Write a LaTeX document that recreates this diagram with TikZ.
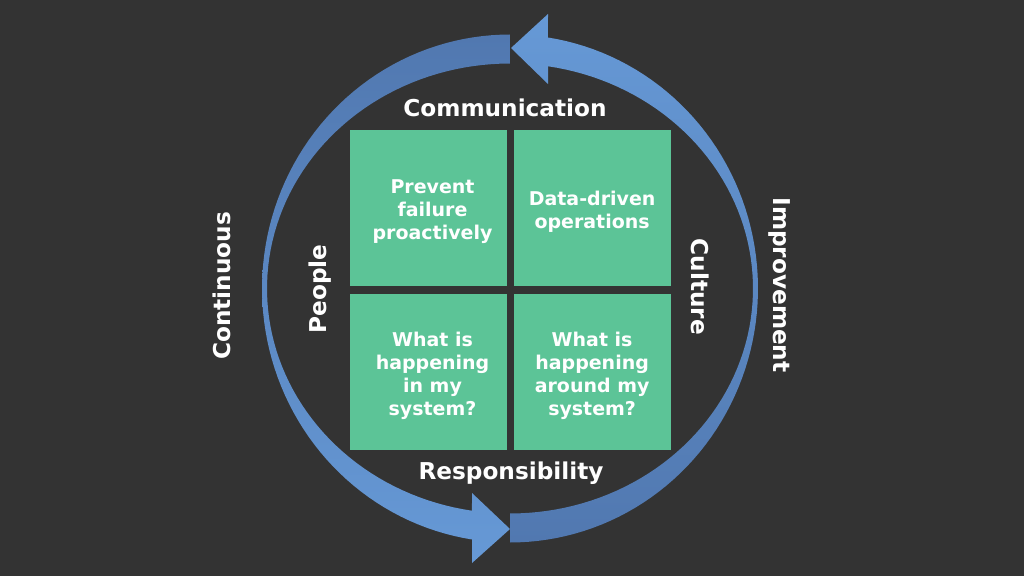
\documentclass[tikz,border=0pt]{standalone}
\usepackage{fontspec}
\setmainfont{DejaVu Sans}
\usetikzlibrary{positioning}
\definecolor{bgdark}{HTML}{333333}
\definecolor{boxgreen}{HTML}{5CC497}
\definecolor{arrowdark}{HTML}{5178B0}
\definecolor{arrowlight}{HTML}{6699D6}
\begin{document}
\begin{tikzpicture}[x=0.025cm,y=-0.025cm,
    quad/.style={fill=boxgreen,minimum width=3.925cm,minimum height=3.9cm,inner sep=0pt},
    qtext/.style={text=white,align=center,inner sep=0pt,font=\bfseries\fontsize{13.5}{16.4}\selectfont},
    lbl/.style={text=white,font=\bfseries\fontsize{16.5}{20}\selectfont}]
                \fill [bgdark] (0,0) rectangle (1024,576);
                \useasboundingbox (0,0) rectangle (1024,576);
                \shade [top color=arrowdark,bottom color=arrowlight] plot[domain=90:261.2,samples=80] ({510+248*cos(\x)},{288.5-254*sin(\x)})--(472,563)--(510,529)--(472,493)--plot[domain=261:90,samples=80] ({510+243*cos(\x)},{288.5-225*sin(\x)})--cycle;
                \shade [top color=arrowlight,bottom color=arrowdark] plot[domain=-90:81.2,samples=80] ({510+248*cos(\x)},{288.5-254*sin(\x)})--(548,14)--(511,48)--(548,84)--plot[domain=81:-90,samples=80] ({510+243*cos(\x)},{288.5-225*sin(\x)})--cycle;
                \node[quad] (prevent) at (428.5,208) {};
                \node[quad,right=0.15cm of prevent] (data) {};
                \node[quad,below=0.175cm of prevent] (inside) {};
                \node[quad,below=0.175cm of data] (around) {};
                \node[qtext] (preventtxt) at ([shift={(4,4)}]prevent.center) {Prevent\\failure\\proactively};
                \node[qtext] (datatxt) at ([shift={(0,4)}]data.center) {Data-driven\\operations};
                \node[qtext] (insidetxt) at ([shift={(4,4)}]inside.center) {What is\\happening\\in my\\system?};
                \node[qtext] (aroundtxt) at ([shift={(0,4)}]around.center) {What is\\happening\\around my\\system?};
                \node[lbl] (comm) at (505,107.5) {Communication};
                \node[lbl] (resp) at (511,473.5) {Responsibility};
                \node[lbl,rotate=90] (people) at (320,289) {People};
                \node[lbl,rotate=-90] (culture) at (700,287) {Culture};
                \node[lbl,rotate=90] (cont) at (222,286) {Continuous};
                \node[lbl,rotate=-90] (impr) at (780,285) {Improvement};
\end{tikzpicture}
\end{document}
